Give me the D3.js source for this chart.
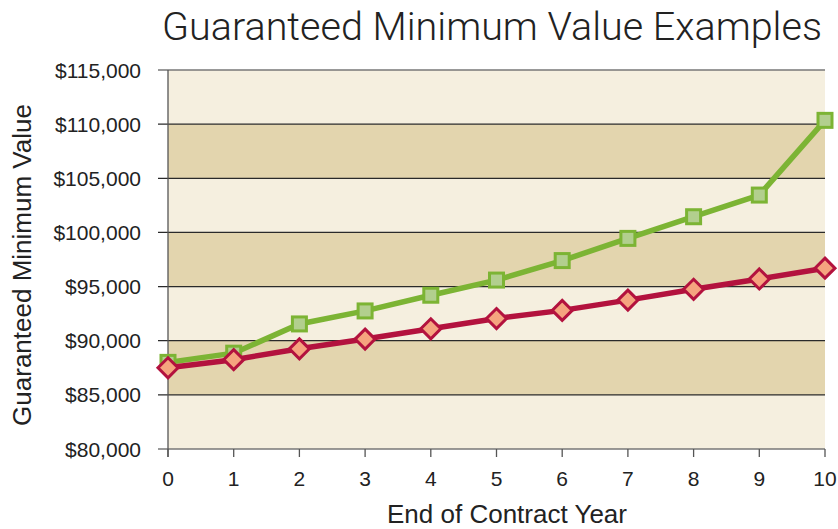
<!DOCTYPE html>
<meta charset="utf-8">
<style>
body { margin: 0; background: #fff; }
text { font-family: "Liberation Sans", Arial, sans-serif; fill: #222; }
.title { font-family: Roboto, "Liberation Sans", sans-serif; font-weight: 300; }
</style>
<div id="chart"></div>
<script src="https://d3js.org/d3.v7.min.js"></script>
<script>
// chart values
var years = [0, 1, 2, 3, 4, 5, 6, 7, 8, 9, 10];
var upper = [88000, 88850, 91550, 92750, 94200, 95600, 97400, 99450, 101450, 103450, 110350];
var lower = [87500, 88250, 89250, 90150, 91100, 92050, 92800, 93750, 94750, 95700, 96700];
var yTicks = [80000, 85000, 90000, 95000, 100000, 105000, 110000, 115000];

var margin = {top: 70, right: 12, bottom: 80, left: 168},
    width = 838 - margin.left - margin.right,
    height = 529 - margin.top - margin.bottom;

var svg = d3.select("#chart")
  .append("svg")
    .attr("width", 838)
    .attr("height", 529);

var g = svg.append("g")
    .attr("transform", "translate(" + margin.left + "," + margin.top + ")");

var x = d3.scaleLinear().domain([0, 10]).range([0, 657]);
var y = d3.scaleLinear().domain([80000, 115000]).range([379, 0]);

// alternating bands
var bands = d3.pairs(yTicks);
g.selectAll(".band")
  .data(bands)
  .enter()
  .append("rect")
    .attr("x", 0)
    .attr("width", x(10))
    .attr("y", function(d) { return y(d[1]); })
    .attr("height", function(d) { return y(d[0]) - y(d[1]); })
    .attr("fill", function(d, i) { return i % 2 ? "#e3d5ae" : "#f5efdf"; });

// gridlines + y ticks
g.selectAll(".grid")
  .data(yTicks)
  .enter()
  .append("line")
    .attr("x1", -10)
    .attr("x2", x(10))
    .attr("y1", function(d) { return y(d); })
    .attr("y2", function(d) { return y(d); })
    .attr("stroke", function(d) { return d == 115000 || d == 80000 ? "#777" : "#2a2a2a"; })
    .attr("stroke-width", 1.3);

g.append("line")
    .attr("x1", 0).attr("x2", 0)
    .attr("y1", y(115000)).attr("y2", y(80000) + 8)
    .attr("stroke", "#555").attr("stroke-width", 1.3);

g.selectAll(".ylab")
  .data(yTicks)
  .enter()
  .append("text")
    .attr("x", -27)
    .attr("y", function(d) { return y(d); })
    .attr("dy", "0.36em")
    .attr("text-anchor", "end")
    .style("font-size", "21px")
    .text(function(d) { return "$" + d3.format(",")(d); });

// x ticks
g.selectAll(".xtick")
  .data(years)
  .enter()
  .append("line")
    .attr("x1", function(d) { return x(d); })
    .attr("x2", function(d) { return x(d); })
    .attr("y1", y(80000))
    .attr("y2", y(80000) + 8)
    .attr("stroke", "#555").attr("stroke-width", 1.3);

g.selectAll(".xlab")
  .data(years)
  .enter()
  .append("text")
    .attr("x", function(d) { return x(d); })
    .attr("y", 416)
    .attr("text-anchor", "middle")
    .style("font-size", "21px")
    .text(function(d) { return d; });

// titles
svg.append("text")
    .attr("class", "title")
    .attr("x", 492)
    .attr("y", 40)
    .attr("text-anchor", "middle")
    .style("font-size", "39.5px")
    .text("Guaranteed Minimum Value Examples");

svg.append("text")
    .attr("x", 507)
    .attr("y", 523)
    .attr("text-anchor", "middle")
    .style("font-size", "26px")
    .text("End of Contract Year");

svg.append("text")
    .attr("transform", "translate(31,265) rotate(-90)")
    .attr("text-anchor", "middle")
    .style("font-size", "26px")
    .text("Guaranteed Minimum Value");

var line = d3.line()
    .x(function(d, i) { return x(years[i]); })
    .y(function(d) { return y(d); });

// green series
g.append("path")
    .datum(upper)
    .attr("d", line)
    .attr("fill", "none")
    .attr("stroke", "#7cb434")
    .attr("stroke-width", 5.5);

g.selectAll(".sq")
  .data(upper)
  .enter()
  .append("rect")
    .attr("x", function(d, i) { return x(years[i]) - 7; })
    .attr("y", function(d) { return y(d) - 7; })
    .attr("width", 14)
    .attr("height", 14)
    .attr("fill", "#b2cf8e")
    .attr("stroke", "#7cb434")
    .attr("stroke-width", 3);

// red series
g.append("path")
    .datum(lower)
    .attr("d", line)
    .attr("fill", "none")
    .attr("stroke", "#b3123e")
    .attr("stroke-width", 5.5);

g.selectAll(".dia")
  .data(lower)
  .enter()
  .append("path")
    .attr("transform", function(d, i) { return "translate(" + x(years[i]) + "," + y(d) + ")"; })
    .attr("d", "M0,-10L10,0L0,10L-10,0Z")
    .attr("fill", "#f5a47f")
    .attr("stroke", "#b3123e")
    .attr("stroke-width", 3);
</script>
